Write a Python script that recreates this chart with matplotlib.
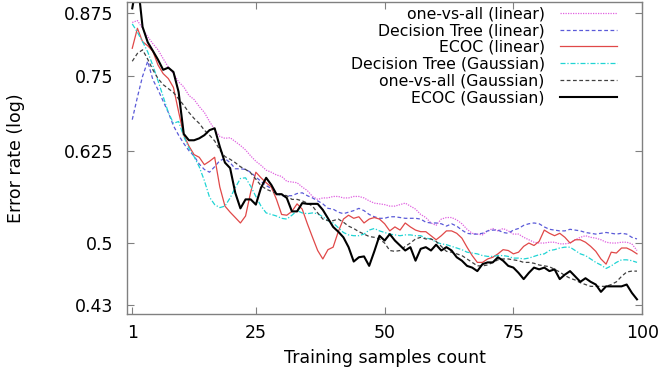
import numpy as np
import matplotlib.pyplot as plt
from matplotlib.ticker import NullLocator

# training samples count
samples = np.arange(1, 100)

ova_linear = [
    0.855, 0.859, 0.843, 0.826, 0.812, 0.800, 0.783, 0.767, 0.755, 0.740,
    0.731, 0.716, 0.709, 0.697, 0.687, 0.672, 0.659, 0.648, 0.645, 0.646,
    0.640, 0.634, 0.627, 0.618, 0.610, 0.604, 0.597, 0.594, 0.590, 0.588,
    0.581, 0.580, 0.579, 0.573, 0.568, 0.560, 0.556, 0.558, 0.558, 0.560,
    0.560, 0.558, 0.558, 0.560, 0.560, 0.558, 0.554, 0.551, 0.550, 0.549,
    0.547, 0.547, 0.549, 0.551, 0.547, 0.543, 0.536, 0.532, 0.525, 0.522,
    0.530, 0.532, 0.532, 0.529, 0.524, 0.517, 0.512, 0.511, 0.510, 0.515,
    0.518, 0.515, 0.518, 0.515, 0.511, 0.511, 0.507, 0.504, 0.501, 0.500,
    0.500, 0.501, 0.501, 0.499, 0.499, 0.500, 0.504, 0.507, 0.509, 0.507,
    0.506, 0.504, 0.501, 0.500, 0.500, 0.501, 0.501, 0.499, 0.491]

dtree_linear = [
    0.675, 0.713, 0.750, 0.778, 0.744, 0.726, 0.706, 0.687, 0.665, 0.650,
    0.637, 0.626, 0.618, 0.606, 0.598, 0.594, 0.602, 0.611, 0.614, 0.608,
    0.599, 0.599, 0.598, 0.594, 0.587, 0.581, 0.575, 0.571, 0.564, 0.561,
    0.561, 0.561, 0.564, 0.565, 0.561, 0.558, 0.554, 0.550, 0.544, 0.543,
    0.539, 0.537, 0.539, 0.541, 0.544, 0.541, 0.536, 0.533, 0.531, 0.531,
    0.533, 0.533, 0.532, 0.531, 0.531, 0.531, 0.530, 0.526, 0.525, 0.525,
    0.524, 0.521, 0.524, 0.521, 0.516, 0.512, 0.511, 0.511, 0.512, 0.515,
    0.516, 0.516, 0.513, 0.512, 0.516, 0.518, 0.522, 0.524, 0.525, 0.524,
    0.520, 0.517, 0.516, 0.515, 0.515, 0.517, 0.516, 0.515, 0.513, 0.512,
    0.511, 0.512, 0.513, 0.512, 0.511, 0.512, 0.511, 0.507, 0.505]

ecoc_linear = [
    0.803, 0.843, 0.816, 0.808, 0.797, 0.771, 0.755, 0.746, 0.730, 0.688,
    0.650, 0.633, 0.620, 0.616, 0.605, 0.610, 0.616, 0.573, 0.547, 0.539,
    0.532, 0.525, 0.534, 0.566, 0.594, 0.586, 0.579, 0.573, 0.556, 0.536,
    0.535, 0.540, 0.550, 0.543, 0.524, 0.507, 0.491, 0.481, 0.492, 0.495,
    0.514, 0.530, 0.535, 0.531, 0.533, 0.525, 0.530, 0.532, 0.530, 0.524,
    0.515, 0.520, 0.516, 0.525, 0.520, 0.516, 0.514, 0.514, 0.509, 0.504,
    0.509, 0.515, 0.515, 0.512, 0.506, 0.495, 0.485, 0.477, 0.477, 0.481,
    0.483, 0.487, 0.492, 0.491, 0.487, 0.489, 0.496, 0.500, 0.497, 0.502,
    0.516, 0.512, 0.509, 0.512, 0.507, 0.500, 0.504, 0.504, 0.501, 0.496,
    0.490, 0.481, 0.475, 0.489, 0.488, 0.494, 0.494, 0.491, 0.487]

dtree_gauss = [
    0.852, 0.835, 0.816, 0.796, 0.770, 0.742, 0.714, 0.687, 0.669, 0.672,
    0.648, 0.630, 0.617, 0.602, 0.582, 0.559, 0.549, 0.545, 0.547, 0.558,
    0.572, 0.585, 0.586, 0.574, 0.560, 0.547, 0.538, 0.536, 0.534, 0.531,
    0.530, 0.535, 0.541, 0.538, 0.537, 0.538, 0.537, 0.533, 0.528, 0.525,
    0.519, 0.513, 0.510, 0.509, 0.509, 0.511, 0.516, 0.518, 0.515, 0.513,
    0.511, 0.510, 0.509, 0.510, 0.510, 0.509, 0.509, 0.506, 0.505, 0.501,
    0.499, 0.498, 0.496, 0.494, 0.492, 0.489, 0.488, 0.487, 0.485, 0.484,
    0.484, 0.485, 0.485, 0.484, 0.482, 0.482, 0.481, 0.482, 0.484, 0.486,
    0.487, 0.491, 0.492, 0.494, 0.495, 0.495, 0.491, 0.487, 0.485, 0.481,
    0.477, 0.474, 0.470, 0.473, 0.477, 0.480, 0.480, 0.479, 0.477]

ova_gauss = [
    0.778, 0.793, 0.800, 0.782, 0.762, 0.746, 0.735, 0.728, 0.721, 0.710,
    0.699, 0.687, 0.677, 0.669, 0.658, 0.650, 0.641, 0.627, 0.617, 0.613,
    0.608, 0.602, 0.598, 0.593, 0.584, 0.575, 0.570, 0.567, 0.564, 0.563,
    0.561, 0.556, 0.556, 0.554, 0.551, 0.547, 0.538, 0.530, 0.528, 0.528,
    0.530, 0.526, 0.521, 0.518, 0.514, 0.511, 0.508, 0.507, 0.505, 0.500,
    0.491, 0.490, 0.491, 0.496, 0.500, 0.505, 0.507, 0.505, 0.505, 0.502,
    0.496, 0.490, 0.489, 0.487, 0.485, 0.481, 0.477, 0.473, 0.473, 0.474,
    0.477, 0.480, 0.481, 0.481, 0.480, 0.479, 0.477, 0.477, 0.476, 0.474,
    0.473, 0.472, 0.469, 0.466, 0.462, 0.459, 0.457, 0.454, 0.452, 0.450,
    0.450, 0.450, 0.450, 0.452, 0.455, 0.461, 0.466, 0.467, 0.467]

ecoc_gauss = [
    0.885, 0.950, 0.846, 0.815, 0.798, 0.781, 0.762, 0.766, 0.758, 0.722,
    0.652, 0.642, 0.642, 0.645, 0.650, 0.658, 0.661, 0.632, 0.608, 0.600,
    0.565, 0.544, 0.556, 0.556, 0.549, 0.572, 0.586, 0.576, 0.563, 0.563,
    0.558, 0.540, 0.540, 0.551, 0.550, 0.550, 0.550, 0.542, 0.531, 0.520,
    0.514, 0.507, 0.495, 0.478, 0.483, 0.484, 0.473, 0.490, 0.509, 0.503,
    0.511, 0.503, 0.497, 0.491, 0.495, 0.479, 0.493, 0.495, 0.491, 0.498,
    0.491, 0.495, 0.491, 0.483, 0.479, 0.473, 0.471, 0.467, 0.475, 0.477,
    0.477, 0.483, 0.479, 0.473, 0.471, 0.465, 0.458, 0.465, 0.471, 0.469,
    0.471, 0.467, 0.469, 0.458, 0.463, 0.467, 0.461, 0.455, 0.459, 0.455,
    0.452, 0.444, 0.450, 0.450, 0.450, 0.450, 0.452, 0.443, 0.436]

labels = ['one-vs-all (linear)', 'Decision Tree (linear)', 'ECOC (linear)',
          'Decision Tree (Gaussian)', 'one-vs-all (Gaussian)', 'ECOC (Gaussian)']
y_ticks = [0.43, 0.5, 0.625, 0.75, 0.875]
x_ticks = [1, 25, 50, 75, 100]

plt.rcParams['font.family'] = 'DejaVu Sans'

fig = plt.figure(figsize=(6.62, 3.70), dpi=100)
ax = fig.add_axes([0.192, 0.151, 0.778, 0.844])

ax.plot(samples, ova_linear, color='#e060e0', lw=0.9, ls=(0, (1, 1)), label=labels[0])
ax.plot(samples, dtree_linear, color='#5a5ad8', lw=0.9, ls=(0, (3, 2)), label=labels[1])
ax.plot(samples, ecoc_linear, color='#e04848', lw=0.9, label=labels[2])
ax.plot(samples, dtree_gauss, color='#20d4d4', lw=0.9, ls=(0, (4, 1.5, 1, 1.5)), label=labels[3])
ax.plot(samples, ova_gauss, color='#404040', lw=0.9, ls=(0, (3, 2)), label=labels[4])
ax.plot(samples, ecoc_gauss, color='black', lw=1.5, label=labels[5])

ax.set_yscale('log')
ax.set_ylim(0.4206, 0.899)
ax.set_xlim(0, 100)
ax.yaxis.set_minor_locator(NullLocator())
ax.set_yticks(y_ticks)
ax.set_yticklabels(['0.43', '0.5', '0.625', '0.75', '0.875'])
ax.set_xticks(x_ticks)

for s in ax.spines.values():
    s.set_color('#808080')
    s.set_linewidth(1)
ax.tick_params(axis='both', direction='in', length=5, color='#808080',
               top=True, right=True, labelsize=12.5)
ax.tick_params(axis='y', pad=10)
ax.tick_params(axis='x', pad=7)

ax.set_xlabel('Training samples count', fontsize=12.5, labelpad=5)
ax.set_ylabel('Error rate (log)', fontsize=12.5, labelpad=28)

leg = ax.legend(loc='upper right', bbox_to_anchor=(0.951, 0.985), frameon=False,
                markerfirst=False, fontsize=11.3, handlelength=3.6,
                handletextpad=1.0, labelspacing=0.11, borderpad=0, borderaxespad=0)

fig.savefig('out.png', dpi=100)
